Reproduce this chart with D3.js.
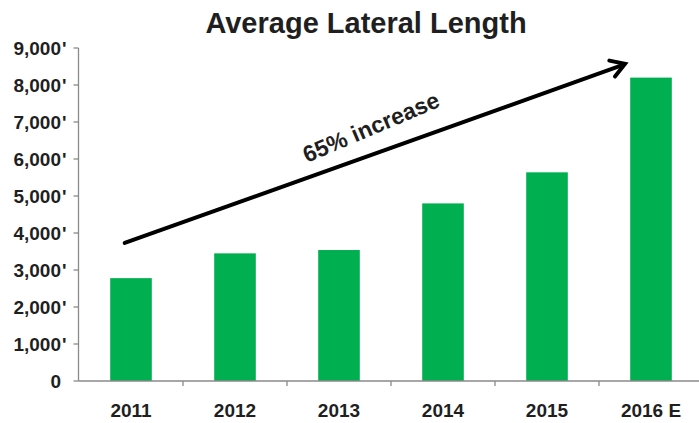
<!DOCTYPE html>
<html>
<head>
<meta charset="utf-8">
<script src="https://cdn.jsdelivr.net/npm/d3@7"></script>
<style>
  html, body { margin: 0; padding: 0; background: #fff; }
  svg { display: block; font-family: "Liberation Sans", Arial, sans-serif; }
</style>
</head>
<body>
<div id="chart"></div>
<script>
// ---- data ----
const title = "Average Lateral Length";
const categories = ["2011", "2012", "2013", "2014", "2015", "2016 E"];
const lengths = [2780, 3450, 3540, 4800, 5640, 8200];
const yTicks = [0, 1000, 2000, 3000, 4000, 5000, 6000, 7000, 8000, 9000];
const annotationText = "65% increase";
// arrow endpoints: [category index position, value]
const arrowStart = [-0.06, 3730];
const arrowEnd = [4.75, 8570];

// ---- layout ----
const W = 699, H = 423;
const svg = d3.select("#chart").append("svg").attr("width", W).attr("height", H);

const x = d3.scaleBand().domain(categories).range([79, 703])
  .paddingInner(0.6).paddingOuter(0.3);
const y = d3.scaleLinear().domain([0, 9000]).range([381, 48]);
const xi = d3.scaleLinear().domain([0, categories.length - 1])
  .range([x(categories[0]) + x.bandwidth() / 2, x(categories[categories.length - 1]) + x.bandwidth() / 2]);

const axisColor = "#8a8a8a";
const textColor = "#1f1f1f";

// title
svg.append("text").attr("x", 366).attr("y", 33).attr("text-anchor", "middle")
  .attr("font-size", 29).attr("font-weight", "bold").attr("fill", textColor)
  .text(title);

// bars
svg.selectAll("rect.bar").data(lengths).enter().append("rect")
  .attr("class", "bar")
  .attr("x", (d, i) => x(categories[i]))
  .attr("y", d => y(d))
  .attr("width", x.bandwidth())
  .attr("height", d => y(0) - y(d))
  .attr("fill", "#00B050");

// y axis
const yAxisX = 78.5;
svg.append("line").attr("x1", yAxisX).attr("x2", yAxisX)
  .attr("y1", y(9000)).attr("y2", y(0))
  .attr("stroke", axisColor).attr("stroke-width", 1.3);
svg.selectAll("line.ytick").data(yTicks).enter().append("line")
  .attr("x1", yAxisX - 5).attr("x2", yAxisX)
  .attr("y1", d => y(d)).attr("y2", d => y(d))
  .attr("stroke", axisColor).attr("stroke-width", 1.3);
const fmt = d3.format(",");
svg.selectAll("text.ylab").data(yTicks).enter().append("text")
  .attr("x", 61).attr("y", d => y(d)).attr("dy", "0.36em")
  .attr("text-anchor", "end").attr("font-size", 19).attr("font-weight", "bold")
  .attr("fill", textColor).text(d => fmt(d));
svg.selectAll("text.yprime").data(yTicks.filter(d => d > 0)).enter().append("text")
  .attr("x", 62).attr("y", d => y(d)).attr("dy", "0.36em")
  .attr("font-size", 19).attr("font-weight", "bold")
  .attr("fill", textColor).text("'");

// x axis
svg.append("line").attr("x1", yAxisX).attr("x2", W)
  .attr("y1", y(0)).attr("y2", y(0))
  .attr("stroke", axisColor).attr("stroke-width", 1.3);
const boundaries = categories.slice(1).map(c => x(c) - x.step() * x.paddingInner() / 2);
svg.selectAll("line.xtick").data(boundaries).enter().append("line")
  .attr("x1", d => d).attr("x2", d => d)
  .attr("y1", y(0)).attr("y2", y(0) + 5)
  .attr("stroke", axisColor).attr("stroke-width", 1.3);
svg.selectAll("text.xlab").data(categories).enter().append("text")
  .attr("x", d => x(d) + x.bandwidth() / 2).attr("y", 417)
  .attr("text-anchor", "middle").attr("font-size", 19).attr("font-weight", "bold")
  .attr("fill", textColor).text(d => d);

// arrow annotation
const x1 = xi(arrowStart[0]), y1 = y(arrowStart[1]);
const x2 = xi(arrowEnd[0]), y2 = y(arrowEnd[1]);
svg.append("line").attr("x1", x1).attr("y1", y1).attr("x2", x2 - 2).attr("y2", y2 + 1)
  .attr("stroke", "#000").attr("stroke-width", 4).attr("stroke-linecap", "round");
const ang = Math.atan2(y2 - y1, x2 - x1);
const hl = 16, ha = 0.55;
const p1 = [x2 - hl * Math.cos(ang - ha), y2 - hl * Math.sin(ang - ha)];
const p2 = [x2 - hl * Math.cos(ang + ha), y2 - hl * Math.sin(ang + ha)];
svg.append("path")
  .attr("d", `M${p1[0]},${p1[1]} L${x2},${y2} L${p2[0]},${p2[1]}`)
  .attr("fill", "none").attr("stroke", "#000").attr("stroke-width", 4)
  .attr("stroke-linecap", "round").attr("stroke-linejoin", "miter");

const tx = 371, ty = 127;
svg.append("text").attr("transform", `translate(${tx},${ty}) rotate(-23)`)
  .attr("text-anchor", "middle").attr("dy", "0.35em")
  .attr("font-size", 23).attr("font-weight", "bold").attr("fill", textColor)
  .text(annotationText);
</script>
</body>
</html>
